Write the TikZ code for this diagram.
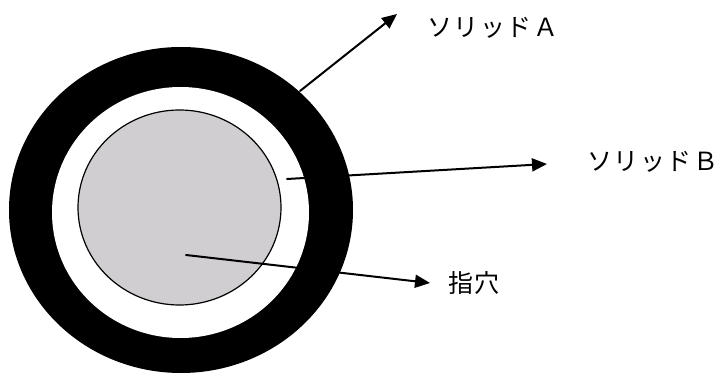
\documentclass[tikz,border=0pt]{standalone}
\usepackage{fontspec}
\newfontfamily\jpfont{Noto Sans CJK JP}[LetterSpace=6]
\usetikzlibrary{arrows.meta}
\definecolor{holegray}{RGB}{208,206,208}
\tikzset{
	label/.style={anchor=west,inner sep=0pt,font=\jpfont\fontsize{25}{25}\selectfont},
	pointer/.style={line width=2pt,-{Triangle[length=15pt,width=13pt]}}
}
\begin{document}
\begin{tikzpicture}[x=1pt,y=-1pt,line cap=round,line join=round]
			\useasboundingbox (0,0) rectangle (721,374);
			% rings
			\fill[black] (181,210) ellipse [x radius=172,y radius=163];
			\fill[white] (180.5,212.5) ellipse [x radius=128.5,y radius=125.5];
			\filldraw[fill=holegray,draw=black,line width=1.2pt] (179.5,207.5) ellipse [x radius=101.5,y radius=97.5];
			% labels
			\node[label] (solidA) at (427,28) {ソリッドＡ};
			\node[label] (solidB) at (587,162) {ソリッドＢ};
			\node[label] (hole) at (448,283) {指穴};
			\coordinate (fromA) at (300,91);
			\coordinate (fromB) at (287,179);
			\coordinate (fromC) at (186,255);
			\draw[pointer] (fromA) -- ([xshift=-30pt,yshift=14pt]solidA.west);
			\draw[pointer] (fromB) -- ([xshift=-40pt,yshift=-2pt]solidB.west);
			\draw[pointer] (fromC) -- ([xshift=-18pt]hole.west);
		\end{tikzpicture}
\end{document}
